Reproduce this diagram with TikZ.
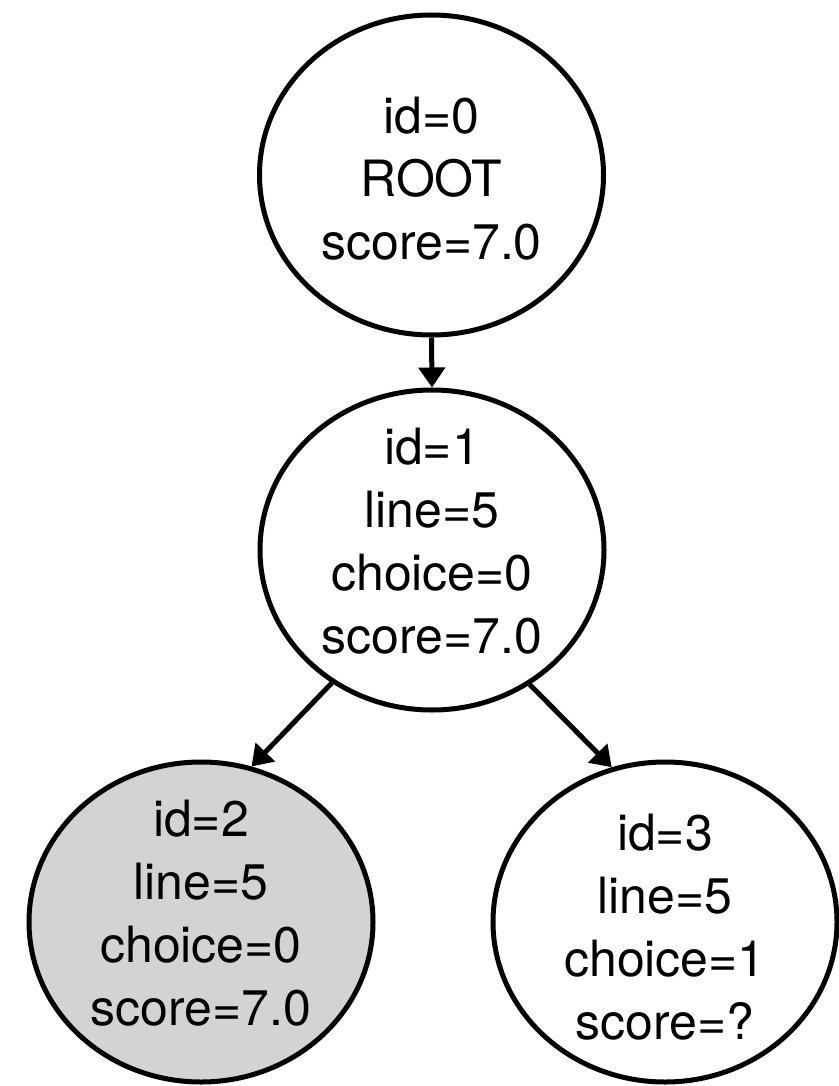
\documentclass[tikz,border=0pt]{standalone}
\usepackage{fontspec}
\setmainfont{TeX Gyre Heros}
\usetikzlibrary{shapes.geometric,arrows.meta}
\definecolor{nodegray}{HTML}{D3D3D3}
\tikzset{
  treenode/.style={draw=black, line width=5pt, ellipse, minimum width=344pt, minimum height=320pt, inner sep=0pt},
  nodetext/.style={align=center, font=\fontsize{50}{63}\selectfont, inner sep=0pt},
  edge/.style={line width=5pt, -{Triangle[width=26pt,length=20pt]}}
}
\begin{document}
\begin{tikzpicture}[x=1pt,y=-1pt]
\useasboundingbox (0,0) rectangle (838,1086);
\node[treenode] (n0) at (431.5,175) {};
\node[treenode] (n1) at (432,550) {};
\node[treenode, fill=nodegray] (n2) at (201,922) {};
\node[treenode] (n3) at (665,922) {};
\node[nodetext] (t0) at (431.5,179) {id=0\\ROOT\\score=7.0};
\node[nodetext] (t1) at (432,541) {id=1\\line=5\\choice=0\\score=7.0};
\node[nodetext] (t2) at (201,913) {id=2\\line=5\\choice=0\\score=7.0};
\node[nodetext] (t3) at (665,927) {id=3\\line=5\\choice=1\\score=?};
\draw[edge] (n0.south) -- (n1.north);
\draw[edge] (n1.233) -- (n2.72.5);
\draw[edge] (n1.306) -- (n3.109);
\end{tikzpicture}
\end{document}
